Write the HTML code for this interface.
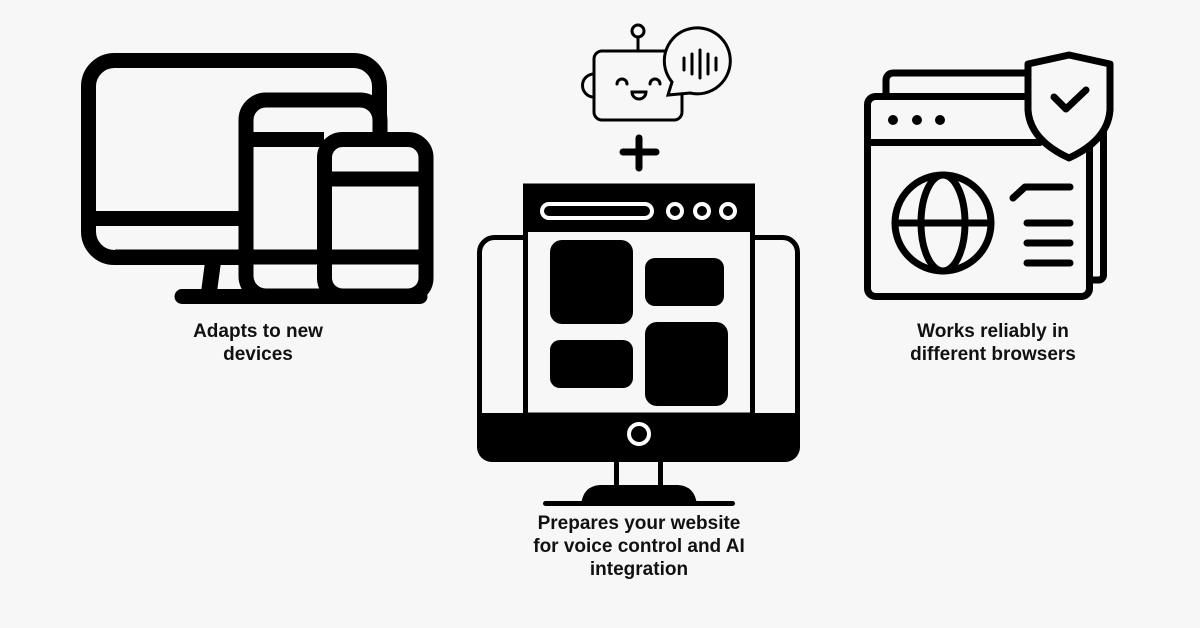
<!DOCTYPE html>
<html><head><meta charset="utf-8"><style>
html,body{margin:0;padding:0;background:#f7f7f7;}
.w{position:relative;width:1200px;height:628px;overflow:hidden;background:#f7f7f7;font-family:"Liberation Sans",sans-serif;}
svg{position:absolute;left:0;top:0;}
.t{position:absolute;text-align:center;font-weight:bold;font-size:19px;line-height:23px;color:#111;}
</style></head><body><div class="w">
<svg width="1200" height="628" viewBox="0 0 1200 628">
<g fill="none" stroke="#000" stroke-width="15" stroke-linecap="round">
 <rect x="88.5" y="60.5" width="291" height="197" rx="26"/>
 <line x1="88" y1="218.5" x2="246" y2="218.5" stroke-linecap="butt"/>
 <rect x="246" y="100" width="134" height="196" rx="20" fill="#f7f7f7"/>
 <rect x="324.5" y="139.5" width="101.5" height="156.5" rx="18" fill="#f7f7f7"/>
 <line x1="115" y1="257" x2="426" y2="257" stroke-linecap="butt"/>
 <line x1="246" y1="139.5" x2="324" y2="139.5" stroke-linecap="butt"/>
 <line x1="324" y1="179" x2="426" y2="179" stroke-linecap="butt"/>
 <line x1="182" y1="296.5" x2="420" y2="296.5"/>
</g>
<polygon points="205,262 221,262 217,292 201,292" fill="#000"/>

<g fill="none" stroke="#000" stroke-width="3" stroke-linecap="round">
 <rect x="594" y="51" width="88" height="69" rx="8"/>
 <line x1="638" y1="38" x2="638" y2="51"/>
 <circle cx="638" cy="31" r="6"/>
 <path d="M594,74 A11,11 0 0 0 594,97"/>
 <path d="M617,84 A5,5 0 0 1 627,84"/>
 <path d="M650,84 A5,5 0 0 1 660,84"/>
 <path d="M632,92 L646,92 A7,7 0 0 1 632,92 Z"/>
 <path d="M672,82 A33,33 0 1 1 690,93 L668,95 Z" fill="#f7f7f7"/>
 <line x1="684" y1="58" x2="684" y2="70"/>
 <line x1="692" y1="54" x2="692" y2="74"/>
 <line x1="700" y1="50" x2="700" y2="78"/>
 <line x1="708" y1="54" x2="708" y2="74"/>
 <line x1="716" y1="58" x2="716" y2="70"/>
</g>
<g stroke="#000" stroke-width="7" stroke-linecap="round">
 <line x1="639" y1="138" x2="639" y2="168"/>
 <line x1="623" y1="152" x2="656" y2="152"/>
</g>

<rect x="479.5" y="237.5" width="318" height="222" rx="15" fill="#f7f7f7" stroke="#000" stroke-width="5"/>
<path d="M477,413 H800 V447 A15,15 0 0 1 785,462 H492 A15,15 0 0 1 477,447 Z" fill="#000"/>
<circle cx="639" cy="434" r="10" fill="none" stroke="#fff" stroke-width="4"/>
<rect x="525.5" y="186" width="227" height="229" fill="#f7f7f7" stroke="#000" stroke-width="5"/>
<rect x="523" y="184" width="232" height="48" fill="#000"/>
<rect x="542" y="204" width="110" height="14" rx="7" fill="none" stroke="#fff" stroke-width="4"/>
<g fill="none" stroke="#fff" stroke-width="4">
 <circle cx="675" cy="211" r="7"/><circle cx="702" cy="211" r="7"/><circle cx="728" cy="211" r="7"/>
</g>
<g fill="#000">
 <rect x="550" y="240" width="83" height="84" rx="12"/>
 <rect x="645" y="258" width="79" height="48" rx="10"/>
 <rect x="550" y="340" width="83" height="48" rx="10"/>
 <rect x="645" y="322" width="83" height="84" rx="12"/>
 <rect x="614" y="460" width="5" height="27"/>
 <rect x="658" y="460" width="5" height="27"/>
 <path d="M581,505 Q583,486 600,485 H678 Q695,486 697,505 Z"/>
 <rect x="543" y="501" width="192" height="5" rx="2.5"/>
</g>

<g fill="none" stroke="#000" stroke-width="7" stroke-linecap="round" stroke-linejoin="round">
 <path d="M886,96 V80 A7,7 0 0 1 893,73 H1050 M1103.5,110 V275 A5,5 0 0 1 1098,280 H1093"/>
 <rect x="867.5" y="96.5" width="222" height="200" rx="8" fill="#f7f7f7"/>
 <line x1="868" y1="142.5" x2="1040" y2="142.5"/>
 <circle cx="943" cy="223" r="48"/>
 <ellipse cx="943" cy="223" rx="22" ry="48"/>
 <line x1="895" y1="223" x2="991" y2="223"/>
 <path d="M1013,198 L1025,187 H1070"/>
 <line x1="1027" y1="223" x2="1070" y2="223"/>
 <line x1="1027" y1="243" x2="1070" y2="243"/>
 <line x1="1027" y1="263" x2="1070" y2="263"/>
 <path d="M1028,64 L1069,55 L1110,64 V110 Q1108,140 1069,158 Q1030,140 1028,110 Z" fill="#f7f7f7"/>
 <path d="M1054,97 L1066,109 L1086,90"/>
</g>
<g fill="#000"><circle cx="893" cy="120" r="5"/><circle cx="917" cy="120" r="5"/><circle cx="940" cy="120" r="5"/></g>
</svg>
<div class="t" style="left:158px;top:320px;width:200px;">Adapts to new<br>devices</div>
<div class="t" style="left:489px;top:512px;width:300px;">Prepares your website<br>for voice control and AI<br>integration</div>
<div class="t" style="left:868px;top:320px;width:250px;">Works reliably in<br>different browsers</div>
</div></body></html>
